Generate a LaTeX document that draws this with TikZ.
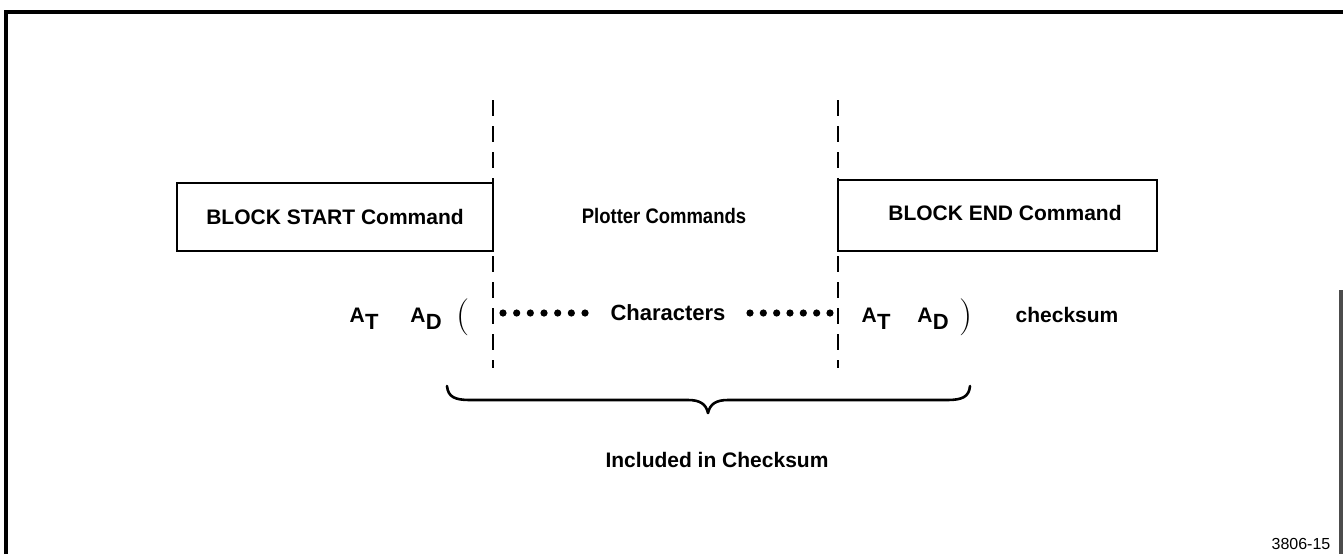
\documentclass[tikz,border=0pt]{standalone}
\usepackage{graphicx}
\usepackage{fontspec}
\newfontfamily\helv{Liberation Sans}
% A with a large, lowered letter beside it (A_T, A_D)
\newcommand\Asub[1]{{\fontsize{10.5}{11}\selectfont A}\kern0.2pt\raisebox{-3.5pt}{\fontsize{11}{11}\selectfont #1}}
\begin{document}
\begin{tikzpicture}[x=0.5pt,y=-0.5pt,
  lbl/.style={font=\helv\bfseries\fontsize{10.5}{12}\selectfont, inner sep=0pt},
  cmdbox/.style={draw, line width=1.25pt, inner sep=0pt, font=\helv\bfseries\fontsize{10.5}{12}\selectfont},
  divider/.style={line width=1.3pt, dash pattern=on 8pt off 5pt},
  frameline/.style={line width=1.6pt},
  paren/.style={inner sep=0pt, font=\fontsize{18.5}{19}\selectfont},
  bracket/.style={line width=1.3pt, line join=round, line cap=round}
]
\useasboundingbox (0,0) rectangle (1343,554);

% outer frame
\draw[frameline] (6,554) -- (6,12) -- (1343,12);
\draw[frameline, black!70] (1341,290) -- (1341,554);

% command blocks
\node[cmdbox, minimum width=158pt, minimum height=34pt] (startbox) at (335,217) {BLOCK START Command};
\node[cmdbox, minimum width=159.5pt, minimum height=35.5pt] (endbox) at (997.5,215.5) {};
\node[lbl] (endtxt) at (1005,213) {BLOCK END Command};
\node[lbl] (plotter) at (664,216) {\scalebox{0.88}[1]{Plotter Commands}};

% dashed dividers
\coordinate (d1top) at (493,100); \coordinate (d1bot) at (493,368);
\coordinate (d2top) at (838,100); \coordinate (d2bot) at (838,368);
\draw[divider] (d1top) -- (d1bot);
\draw[divider] (d2top) -- (d2bot);

% character row
\node[lbl, font=\helv\bfseries] (atl) at (364,319) {\Asub{T}};
\node[lbl, font=\helv\bfseries] (adl) at (426,319) {\Asub{D}};
\node[paren] (lpar) at (463,317) {(};
\foreach \i in {0,...,6} \fill ({503+13.67*\i},313) circle[radius=1.8pt];
\node[lbl, font=\helv\bfseries\fontsize{11}{12}\selectfont] (chars) at (668,313) {Characters};
\foreach \i in {0,...,6} \fill ({750+13.33*\i},313) circle[radius=1.8pt];
\node[lbl, font=\helv\bfseries] (atr) at (876,319) {\Asub{T}};
\node[lbl, font=\helv\bfseries] (adr) at (933,319) {\Asub{D}};
\node[paren] (rpar) at (966,317) {)};
\node[lbl] (cks) at (1067,315) {checksum};

% brace under the checksummed span
\coordinate (brL) at (447,386);
\coordinate (brTip) at (708,413);
\coordinate (brR) at (970,386);
\draw[bracket] (brL) .. controls (448,397) and (455,400) .. (470,400)
  -- (688,400) .. controls (700,400) and (706,404) .. (brTip)
  .. controls (710,404) and (716,400) .. (728,400)
  -- (947,400) .. controls (962,400) and (969,397) .. (brR);
\node[lbl] (incl) at (717,460) {Included in Checksum};

% figure number
\node[inner sep=0pt, font=\helv\fontsize{8}{9}\selectfont] (fignum) at (1301,544) {3806-15};
\end{tikzpicture}
\end{document}
